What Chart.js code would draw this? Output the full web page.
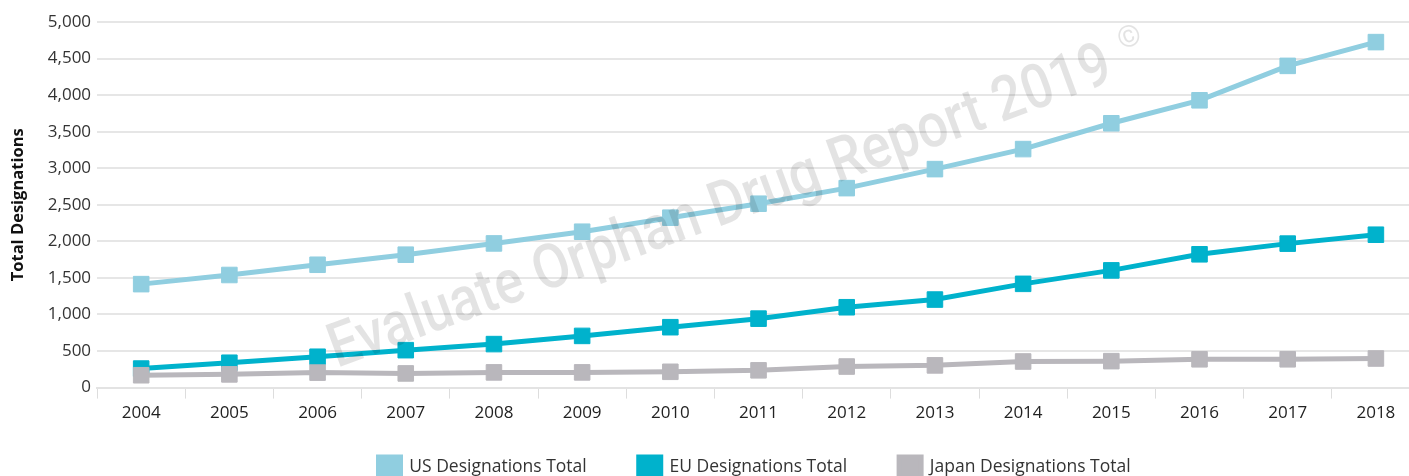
<!DOCTYPE html>
<html><head><meta charset="utf-8">
<script src="https://cdn.jsdelivr.net/npm/chart.js@4"></script>
<style>
html,body{margin:0;padding:0;overflow:hidden;background:#fff}
#outer{width:1409px;height:476px;overflow:hidden;position:relative}
#wrap{position:absolute;left:0;top:0;width:1420px;height:509px}
</style>
</head><body>
<div id="outer"><div id="wrap"><canvas id="c"></canvas></div></div>
<script>
const years = ['2004','2005','2006','2007','2008','2009','2010','2011','2012','2013','2014','2015','2016','2017','2018'];
const usTotal    = [1415, 1540, 1680, 1818, 1972, 2132, 2324, 2515, 2728, 2988, 3262, 3615, 3929, 4400, 4725];
const euTotal    = [260, 340, 422, 512, 595, 707, 826, 943, 1099, 1204, 1419, 1603, 1823, 1969, 2091];
const japanTotal = [169, 181, 205, 194, 208, 208, 216, 236, 288, 304, 357, 362, 387, 387, 398];
const seriesNames = ['US Designations Total', 'EU Designations Total', 'Japan Designations Total'];
const seriesColors = ['#90cee0', '#00b2cc', '#b9b7bc'];
const yMin = 0, yMax = 5000, yStep = 500;
const yTitle = 'Total Designations';
const watermarkText = 'Evaluate Orphan Drug Report 2019';
const watermarkMark = '\u00A9';

const watermark = {
  id: 'watermark',
  afterLayout(chart) {
    const lg = chart.legend;
    if (lg) { lg.left -= 4; lg.right -= 4; lg.top -= 22; lg.bottom -= 22; }
  },
  afterDatasetsDraw(chart) {
    const ctx = chart.ctx, a = chart.chartArea;
    ctx.save();
    const x0 = a.left + 240, y0 = a.top + 346;
    ctx.translate(x0, y0);
    ctx.rotate(-20.3 * Math.PI / 180);
    ctx.fillStyle = 'rgba(0,0,0,0.11)';
    ctx.textBaseline = 'alphabetic';
    ctx.font = '500 62px Roboto';
    const w = ctx.measureText(watermarkText).width;
    const target = 830;
    ctx.save();
    ctx.scale(target / w, 1);
    ctx.fillText(watermarkText, 0, 0);
    ctx.restore();
    ctx.font = '400 30px Roboto';
    ctx.fillText(watermarkMark, target + 16, -26);
    ctx.restore();
  }
};

const mk = (i, data) => ({
  label: seriesNames[i],
  data: data,
  borderColor: seriesColors[i],
  backgroundColor: seriesColors[i],
  pointBackgroundColor: seriesColors[i],
  pointBorderColor: seriesColors[i],
  borderWidth: 5,
  pointStyle: 'rect',
  pointRadius: 11,
  pointHoverRadius: 11,
  pointBorderWidth: 1,
  tension: 0,
  order: 2 - i
});

new Chart(document.getElementById('c'), {
  type: 'line',
  data: {
    labels: years,
    datasets: [mk(0, usTotal), mk(1, euTotal), mk(2, japanTotal)]
  },
  options: {
    responsive: true,
    maintainAspectRatio: false,
    animation: false,
    layout: { autoPadding: false, padding: { left: 4, top: 22, right: 0, bottom: 0 } },
    plugins: {
      tooltip: { enabled: false },
      legend: {
        position: 'bottom',
        fullSize: false,
        labels: {
          boxWidth: 22,
          boxHeight: 20,
          padding: 52,
          color: '#333',
          font: { family: 'Open Sans', size: 17.5 },
          sort: (a, b) => a.datasetIndex - b.datasetIndex
        }
      }
    },
    scales: {
      x: {
        offset: true,
        grid: { offset: true, drawOnChartArea: false, drawTicks: true, tickLength: 11, color: '#dddddd' },
        border: { display: true, color: '#e3e3e3', width: 2 },
        ticks: { color: '#222', padding: 4, maxRotation: 0, autoSkip: false, font: { family: 'Open Sans', size: 17 } }
      },
      y: {
        min: yMin, max: yMax,
        grid: { color: '#e6e6e6', lineWidth: 2, drawTicks: false },
        border: { display: false },
        ticks: {
          stepSize: yStep, padding: 6, color: '#333',
          font: { family: 'Open Sans', size: 17 },
          callback: v => v.toLocaleString('en-US')
        },
        title: {
          display: true, text: yTitle, color: '#111',
          font: { family: 'Open Sans', size: 16.5, weight: 'bold' },
          padding: { top: 4, bottom: 14 }
        }
      }
    }
  },
  plugins: [watermark]
});
</script>
</body></html>
